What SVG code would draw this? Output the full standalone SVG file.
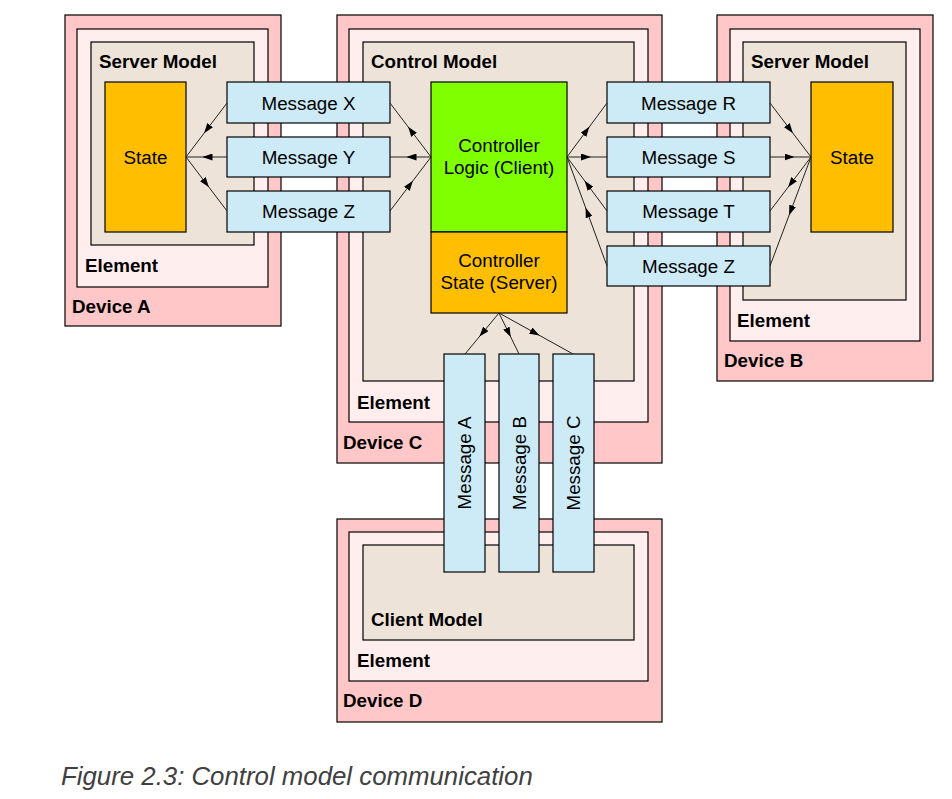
<svg xmlns="http://www.w3.org/2000/svg" width="952" height="799" viewBox="0 0 952 799">
<style>
rect{stroke:#000;stroke-width:1.2}
.dev{fill:#ffc7c7}
.elm{fill:#ffeeed}
.mdl{fill:#eee3d8}
.st{fill:#ffbf00}
.lg{fill:#80ff00}
.msg{fill:#cdebf7}
text{font-family:"Liberation Sans",Arial,sans-serif;font-size:18.8px;fill:#000}
.b{font-weight:bold}
.c{text-anchor:middle}
.cap{font-style:italic;font-size:25.8px;fill:#404040}
.cn path{fill:none;stroke:#222;stroke-width:1;marker-mid:url(#ah)}
</style>
<defs>
<marker id="ah" viewBox="0 0 10 7" refX="6" refY="3.5" markerWidth="10" markerHeight="7" markerUnits="userSpaceOnUse" orient="auto">
<path d="M0,0 L10,3.5 L0,7 z" fill="#000" stroke="none"/>
</marker>
</defs>

<g id="deviceC">
<rect class="dev" x="337" y="15" width="325" height="448"/>
<text class="b" x="343" y="449">Device C</text>
<rect class="elm" x="349" y="29" width="299" height="393"/>
<text class="b" x="357" y="409">Element</text>
<rect class="mdl" x="363" y="42" width="271" height="339"/>
<text class="b" x="371" y="68">Control Model</text>
</g>
<g id="controllerLogic">
<rect class="lg" x="431" y="82" width="136" height="150"/>
<text class="c" x="499" y="151.5">Controller</text>
<text class="c" x="499" y="173.5">Logic (Client)</text>
</g>
<g id="controllerState">
<rect class="st" x="431" y="232" width="136" height="81"/>
<text class="c" x="499" y="266.5">Controller</text>
<text class="c" x="499" y="289">State (Server)</text>
</g>

<g id="deviceA">
<rect class="dev" x="65" y="15" width="216" height="311"/>
<text class="b" x="72" y="313">Device A</text>
<rect class="elm" x="77" y="29" width="191" height="258"/>
<text class="b" x="85" y="272">Element</text>
<rect class="mdl" x="91" y="42" width="163" height="203"/>
<text class="b" x="99" y="68">Server Model</text>
</g>
<g id="stateA">
<rect class="st" x="105" y="82" width="81" height="150"/>
<text class="c" x="145.5" y="164">State</text>
</g>

<g id="deviceB">
<rect class="dev" x="717" y="15" width="216" height="366"/>
<text class="b" x="724" y="367">Device B</text>
<rect class="elm" x="730" y="29" width="190" height="312"/>
<text class="b" x="737" y="327">Element</text>
<rect class="mdl" x="743" y="42" width="163" height="258"/>
<text class="b" x="751" y="68">Server Model</text>
</g>
<g id="stateB">
<rect class="st" x="811" y="82" width="82" height="150"/>
<text class="c" x="852" y="164">State</text>
</g>

<g id="deviceD">
<rect class="dev" x="337" y="519" width="325" height="203"/>
<text class="b" x="343" y="707">Device D</text>
<rect class="elm" x="349" y="532" width="299" height="149"/>
<text class="b" x="357" y="667">Element</text>
<rect class="mdl" x="363" y="545" width="271" height="95"/>
<text class="b" x="371" y="626">Client Model</text>
</g>

<g id="msgX"><rect class="msg" x="227" y="82" width="163" height="41"/><text class="c" x="308.5" y="109.5">Message X</text></g>
<g id="msgY"><rect class="msg" x="227" y="137" width="163" height="40"/><text class="c" x="308.5" y="163.5">Message Y</text></g>
<g id="msgZ1"><rect class="msg" x="227" y="191" width="163" height="41"/><text class="c" x="308.5" y="218">Message Z</text></g>

<g id="msgR"><rect class="msg" x="607" y="82" width="163" height="41"/><text class="c" x="688.5" y="109.5">Message R</text></g>
<g id="msgS"><rect class="msg" x="607" y="137" width="163" height="40"/><text class="c" x="688.5" y="163.5">Message S</text></g>
<g id="msgT"><rect class="msg" x="607" y="191" width="163" height="41"/><text class="c" x="688.5" y="218">Message T</text></g>
<g id="msgZ2"><rect class="msg" x="607" y="246" width="163" height="40"/><text class="c" x="688.5" y="272.5">Message Z</text></g>

<g id="msgA"><rect class="msg" x="444" y="354" width="41" height="218"/><text class="c" transform="translate(471,463) rotate(-90)">Message A</text></g>
<g id="msgB"><rect class="msg" x="499" y="354" width="40" height="218"/><text class="c" transform="translate(525.5,463) rotate(-90)">Message B</text></g>
<g id="msgC"><rect class="msg" x="553" y="354" width="41" height="218"/><text class="c" transform="translate(580,463) rotate(-90)">Message C</text></g>

<g id="connectors" class="cn">
<path d="M227,103 L206.5,130 L186,157"/>
<path d="M227,157 L206.5,157 L186,157"/>
<path d="M186,157 L206.5,184 L227,211"/>
<path d="M431,157 L410.5,130 L390,103"/>
<path d="M431,157 L410.5,157 L390,157"/>
<path d="M390,211 L410.5,184 L431,157"/>
<path d="M567,157 L587,130 L607,103"/>
<path d="M567,157 L587,157 L607,157"/>
<path d="M607,211 L587,184 L567,157"/>
<path d="M607,266 L587,211.5 L567,157"/>
<path d="M770,103 L790.5,130 L811,157"/>
<path d="M770,157 L790.5,157 L811,157"/>
<path d="M811,157 L790.5,184 L770,211"/>
<path d="M811,157 L790.5,211.5 L770,266"/>
<path d="M499,313 L482,333.5 L465,354"/>
<path d="M499,313 L509,333.5 L519,354"/>
<path d="M499,313 L536,333.5 L573,354"/>
</g>

<text class="cap" x="61" y="785">Figure 2.3: Control model communication</text>
</svg>
